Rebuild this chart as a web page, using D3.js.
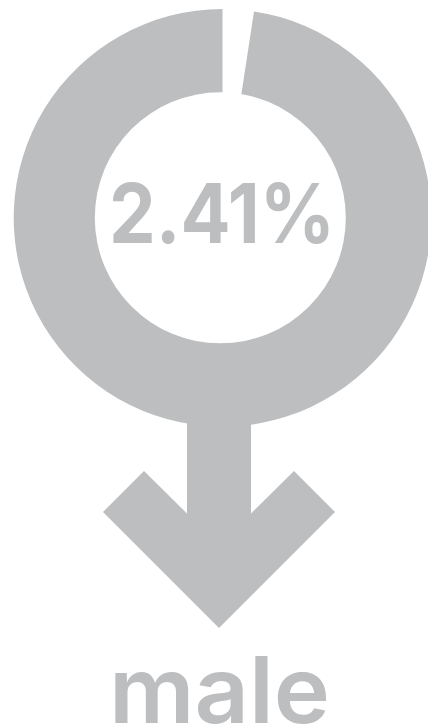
<!DOCTYPE html>
<html>
<head>
<meta charset="utf-8">
<script src="https://cdnjs.cloudflare.com/ajax/libs/d3/7.8.5/d3.min.js"></script>
<style>
  html, body { margin: 0; padding: 0; background: #fff; }
  svg { display: block; }
</style>
</head>
<body>
<div id="chart"></div>
<script>
// share of the symbol's ring left open, the rest is the filled part
var categories = ["male", "other"];
var shares = [2.41, 97.59];
var valueLabels = ["2.41%"];

var width = 428, height = 728;
var grey = "#bcbec0";

// the hole is not quite concentric with the outer edge in the reference
var cx = 222.5, cy = 217.8, outerR = 208.8;
var holeX = 220.3, holeR = 125.5;

var svg = d3.select("#chart").append("svg")
    .attr("width", width)
    .attr("height", height);

// arrow goes first so the ring sits on top of the shaft
var shaftHalf = 32, headOut = 116, headDrop = 116, barb = 41;
var ax = 219, tipY = 628;
var arrow = d3.path();
arrow.moveTo(ax - shaftHalf, cy + outerR - 10);
arrow.lineTo(ax - shaftHalf, tipY - headDrop + 1.5);
arrow.lineTo(ax - headOut + barb, tipY - headDrop - barb);
arrow.lineTo(ax - headOut, tipY - headDrop);
arrow.lineTo(ax, tipY);
arrow.lineTo(ax + headOut, tipY - headDrop);
arrow.lineTo(ax + headOut - barb, tipY - headDrop - barb);
arrow.lineTo(ax + shaftHalf, tipY - headDrop + 1.5);
arrow.lineTo(ax + shaftHalf, cy + outerR - 10);
arrow.closePath();
svg.append("path").attr("d", arrow.toString()).attr("fill", grey);

var pie = d3.pie().sort(null).value(function(d) { return d; });
var arc = d3.arc().innerRadius(0).outerRadius(outerR);

svg.append("g")
    .attr("transform", "translate(" + cx + "," + cy + ")")
  .selectAll("path")
  .data(pie(shares))
  .enter().append("path")
    .attr("d", arc)
    .attr("fill", function(d, i) { return i === 0 ? "none" : grey; });

// punch the hole after the slices
svg.append("circle")
    .attr("cx", holeX)
    .attr("cy", cy)
    .attr("r", holeR)
    .attr("fill", "#fff");

svg.append("text")
    .attr("x", 109)
    .attr("y", 242.7)
    .attr("font-family", "Inter")
    .attr("font-weight", 700)
    .attr("font-size", 82)
    .attr("textLength", 226)
    .attr("lengthAdjust", "spacingAndGlyphs")
    .attr("fill", grey)
    .text(valueLabels[0]);

svg.append("text")
    .attr("x", 109)
    .attr("y", 722.7)
    .attr("font-family", "Inter")
    .attr("font-weight", 600)
    .attr("font-size", 92)
    .attr("textLength", 221)
    .attr("lengthAdjust", "spacingAndGlyphs")
    .attr("fill", grey)
    .text(categories[0]);
</script>
</body>
</html>
